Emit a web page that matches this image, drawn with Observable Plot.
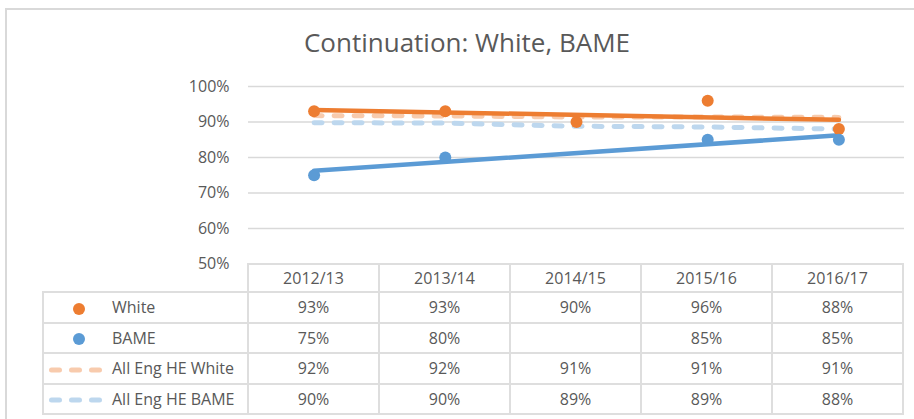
<!DOCTYPE html>
<html>
<head>
<meta charset="utf-8">
<script src="https://cdn.jsdelivr.net/npm/d3@7"></script>
<script src="https://cdn.jsdelivr.net/npm/@observablehq/plot@0.6"></script>
<style>
  body { margin: 0; background: #fff; }
  #root { position: relative; width: 914px; height: 419px; overflow: hidden; font-family: "Open Sans", sans-serif; color: #595959; background: #fff; }
  #frame { position: absolute; left: 5px; top: 8px; width: 960px; height: 480px; border-left: 2px solid #d9d9d9; border-top: 2px solid #d9d9d9; }
  #title { position: absolute; left: 0; width: 934px; top: 24px; text-align: center; font-size: 26px; line-height: 36px; white-space: nowrap; }
  #chart { position: absolute; left: 0; top: 0; }
  #chart svg { overflow: visible; }
  table { position: absolute; left: 42px; top: 263px; border-collapse: collapse; table-layout: fixed; font-size: 16px; color: #595959; }
  td, th { border: 2px solid #dedede; text-align: center; font-weight: normal; padding: 0; white-space: nowrap; }
  tr.h { height: 28px; }
  tr.r { height: 30.5px; }
  th.corner { border-top: none; border-left: none; }
  td.leg { text-align: left; }
  td.leg svg { vertical-align: middle; }
</style>
</head>
<body>
<div id="root">
  <div id="frame"></div>
  <div id="title">Continuation: White, BAME</div>
  <div id="chart"></div>
</div>
<script>
// ---- data ----
const years = ["2012/13", "2013/14", "2014/15", "2015/16", "2016/17"];
const white = [0.93, 0.93, 0.90, 0.96, 0.88];
const bame = [0.75, 0.80, null, 0.85, 0.85];
const engWhite = [0.918, 0.917, 0.914, 0.914, 0.913];
const engBame = [0.898, 0.897, 0.888, 0.886, 0.880];
const yTicks = [0.5, 0.6, 0.7, 0.8, 0.9, 1.0];
const seriesNames = ["White", "BAME", "All Eng HE White", "All Eng HE BAME"];

const orange = "#ED7D31", blue = "#5B9BD5", lightOrange = "#F8CBAD", lightBlue = "#BDD7EE";

const rows = years.map((year, k) => ({
  i: k + 1, year,
  white: white[k], bame: bame[k], engWhite: engWhite[k], engBame: engBame[k]
}));
const whiteRows = rows.filter(d => d.white != null);
const bameRows = rows.filter(d => d.bame != null);

const chart = Plot.plot({
  width: 914,
  height: 270,
  marginLeft: 248,
  marginRight: 10,
  marginTop: 86,
  marginBottom: 6.5,
  x: { domain: [0.5, 5.5], axis: null },
  y: { domain: [0.5, 1], label: null },
  style: { fontFamily: "Open Sans", fontSize: "16px", color: "#595959", background: "transparent", overflow: "visible" },
  marks: [
    Plot.gridY(yTicks.filter(t => t > 0.5), { stroke: "#d9d9d9", strokeOpacity: 1, strokeWidth: 1.5 }),
    Plot.axisY(yTicks, { tickSize: 0, tickPadding: 19, tickFormat: d3.format(".0%"), fontSize: 16, label: null }),
    Plot.line(rows, { x: "i", y: "engWhite", stroke: lightOrange, strokeWidth: 5, strokeDasharray: "8,12", strokeLinecap: "round" }),
    Plot.line(rows, { x: "i", y: "engBame", stroke: lightBlue, strokeWidth: 5, strokeDasharray: "8,12", strokeLinecap: "round" }),
    Plot.linearRegressionY(whiteRows, { x: "i", y: "white", stroke: orange, strokeWidth: 4.5, ci: 0 }),
    Plot.linearRegressionY(bameRows, { x: "i", y: "bame", stroke: blue, strokeWidth: 4.5, ci: 0 }),
    Plot.dot(whiteRows, { x: "i", y: "white", r: 6, fill: orange }),
    Plot.dot(bameRows, { x: "i", y: "bame", r: 6, fill: blue })
  ]
});
document.getElementById("chart").appendChild(chart);

// ---- data table below the plot ----
const fmt = d3.format(".0%");
const swatch = (kind, color) => {
  if (kind === "dot")
    return `<svg width="68" height="14"><circle cx="35" cy="7" r="6" fill="${color}"/></svg>`;
  return `<svg width="68" height="14"><line x1="7.5" x2="60" y1="7" y2="7" stroke="${color}" stroke-width="5" stroke-dasharray="8,12" stroke-linecap="round"/></svg>`;
};
const tableSeries = [
  { name: seriesNames[0], values: white, kind: "dot", color: orange },
  { name: seriesNames[1], values: bame, kind: "dot", color: blue },
  { name: seriesNames[2], values: engWhite, kind: "dash", color: lightOrange },
  { name: seriesNames[3], values: engBame, kind: "dash", color: lightBlue }
];
let html = `<colgroup><col style="width:205px">${years.map(() => `<col style="width:131px">`).join("")}</colgroup>`;
html += `<tr class="h"><th class="corner"></th>${years.map(y => `<th>${y}</th>`).join("")}</tr>`;
for (const s of tableSeries) {
  html += `<tr class="r"><td class="leg">${swatch(s.kind, s.color)}${s.name}</td>${s.values.map(v => `<td>${v == null ? "" : fmt(v)}</td>`).join("")}</tr>`;
}
const table = document.createElement("table");
table.innerHTML = html;
document.getElementById("root").appendChild(table);
</script>
</body>
</html>
